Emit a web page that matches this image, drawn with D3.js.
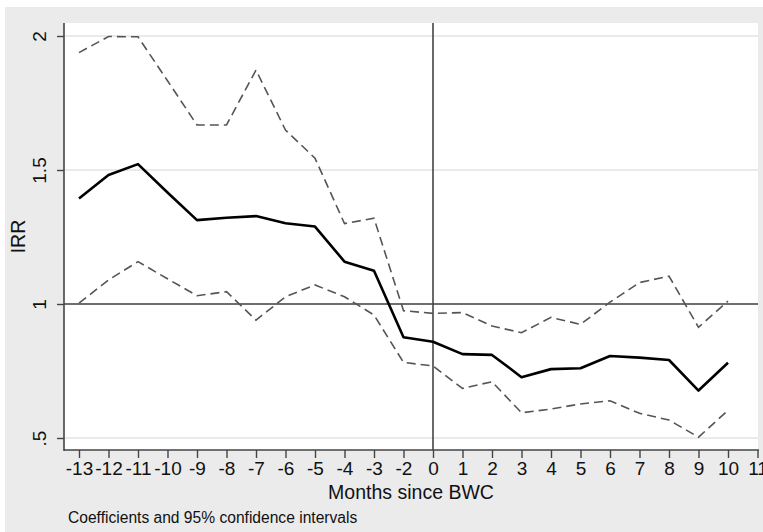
<!DOCTYPE html>
<html>
<head>
<meta charset="utf-8">
<script src="https://cdnjs.cloudflare.com/ajax/libs/d3/7.8.5/d3.min.js"></script>
<style>
  body { margin: 0; background: #fff; }
  svg { display: block; font-family: "Liberation Sans", Arial, sans-serif; }
</style>
</head>
<body>
<script>
// months relative to BWC (-1 is the omitted reference month)
var xTicks = ["-13","-12","-11","-10","-9","-8","-7","-6","-5","-4","-3","-2",
  "0","1","2","3","4","5","6","7","8","9","10","11"];
var months = ["-13","-12","-11","-10","-9","-8","-7","-6","-5","-4","-3","-2",
  "0","1","2","3","4","5","6","7","8","9","10"];
var irr = [1.394, 1.481, 1.522, 1.416, 1.313, 1.322, 1.328, 1.301, 1.289, 1.158, 1.124, 0.876,
  0.859, 0.813, 0.810, 0.727, 0.757, 0.760, 0.806, 0.800, 0.791, 0.677, 0.781];
var upper = [1.938, 1.998, 1.997, 1.833, 1.668, 1.668, 1.873, 1.649, 1.544, 1.300, 1.320, 0.975,
  0.965, 0.968, 0.918, 0.893, 0.950, 0.924, 1.007, 1.080, 1.104, 0.913, 1.011];
var lower = [1.003, 1.090, 1.158, 1.094, 1.031, 1.046, 0.940, 1.027, 1.071, 1.027, 0.959, 0.782,
  0.769, 0.685, 0.710, 0.594, 0.608, 0.627, 0.639, 0.592, 0.567, 0.503, 0.603];
var yTicks = [0.5, 1, 1.5, 2];
var yLabels = [".5", "1", "1.5", "2"];

var width = 763, height = 532;
var plot = { left: 64, top: 23, right: 758, bottom: 450 };

var svg = d3.select("body").append("svg")
  .attr("width", width)
  .attr("height", height);

// outer graph region
svg.append("rect")
  .attr("x", 5).attr("y", 7)
  .attr("width", width - 5).attr("height", height - 7)
  .attr("fill", "#ebebeb");

svg.append("rect")
  .attr("x", plot.left).attr("y", plot.top)
  .attr("width", plot.right - plot.left).attr("height", plot.bottom - plot.top)
  .attr("fill", "#fff");

var x = d3.scalePoint().domain(xTicks).range([79, 757.5]);
var y = d3.scaleLinear().domain([0.5, 2]).range([438, 36]);

// gridlines
svg.append("g")
  .selectAll("line")
  .data(yTicks)
  .enter().append("line")
  .attr("x1", plot.left).attr("x2", plot.right)
  .attr("y1", function (d) { return y(d); })
  .attr("y2", function (d) { return y(d); })
  .attr("stroke", "#e3e3e3")
  .attr("stroke-width", 1.5);

// reference lines
svg.append("line")
  .attr("x1", plot.left).attr("x2", plot.right)
  .attr("y1", y(1)).attr("y2", y(1))
  .attr("stroke", "#444").attr("stroke-width", 1.6);

svg.append("line")
  .attr("x1", x("0")).attr("x2", x("0"))
  .attr("y1", plot.top).attr("y2", plot.bottom)
  .attr("stroke", "#444").attr("stroke-width", 1.6);

// lines
function lineFor(vals) {
  return d3.line()
    .x(function (d, i) { return x(months[i]); })
    .y(function (d) { return y(d); })(vals);
}

[upper, lower].forEach(function (s) {
  svg.append("path")
    .attr("d", lineFor(s))
    .attr("fill", "none")
    .attr("stroke", "#555")
    .attr("stroke-width", 1.6)
    .attr("stroke-dasharray", "9,5");
});

svg.append("path")
  .attr("d", lineFor(irr))
  .attr("fill", "none")
  .attr("stroke", "#000")
  .attr("stroke-width", 2.6)
  .attr("stroke-linejoin", "round");

/* AXES */

var xAxis = svg.append("g")
  .attr("transform", "translate(0," + plot.bottom + ")")
  .call(d3.axisBottom(x).tickSize(8).tickPadding(4));
xAxis.select(".domain").remove();
xAxis.append("line")
  .attr("x1", plot.left).attr("x2", plot.right + 1)
  .attr("stroke", "#444").attr("stroke-width", 1.6);
xAxis.selectAll(".tick line").attr("stroke", "#444").attr("stroke-width", 1.4);
xAxis.selectAll(".tick text")
  .attr("fill", "#111")
  .style("font-size", "19px")
  .style("font-family", "Liberation Sans, Arial, sans-serif");

var yAxis = svg.append("g")
  .attr("transform", "translate(" + plot.left + ",0)")
  .call(d3.axisLeft(y).tickValues(yTicks).tickSize(7)
    .tickFormat(function (d, i) { return yLabels[i]; }));
yAxis.select(".domain").remove();
yAxis.append("line")
  .attr("y1", plot.top).attr("y2", plot.bottom + 1)
  .attr("stroke", "#444").attr("stroke-width", 1.6);
yAxis.selectAll(".tick line").attr("stroke", "#444").attr("stroke-width", 1.4);
yAxis.selectAll(".tick text")
  .attr("x", null).attr("dy", null)
  .attr("transform", "translate(-18,0) rotate(-90)")
  .attr("text-anchor", "middle")
  .attr("fill", "#111")
  .style("font-size", "19px")
  .style("font-family", "Liberation Sans, Arial, sans-serif");

// titles
svg.append("text")
  .attr("x", (plot.left + plot.right) / 2)
  .attr("y", 499)
  .attr("text-anchor", "middle")
  .attr("fill", "#111")
  .style("font-size", "19.5px")
  .text("Months since BWC");

svg.append("text")
  .attr("transform", "translate(25," + (plot.top + plot.bottom) / 2 + ") rotate(-90)")
  .attr("text-anchor", "middle")
  .attr("fill", "#111")
  .style("font-size", "19.5px")
  .text("IRR");

svg.append("text")
  .attr("x", 68)
  .attr("y", 522.5)
  .attr("fill", "#111")
  .style("font-size", "15.6px")
  .text("Coefficients and 95% confidence intervals");
</script>
</body>
</html>
